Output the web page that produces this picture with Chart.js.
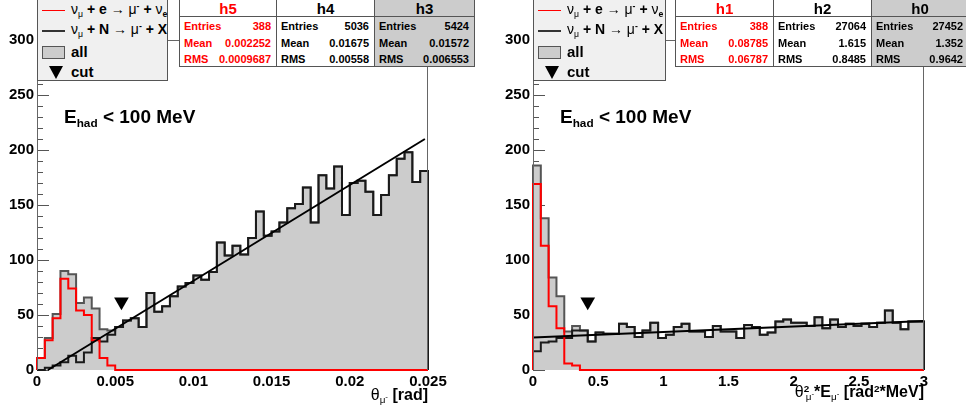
<!DOCTYPE html>
<html><head><meta charset="utf-8">
<script src="https://cdn.jsdelivr.net/npm/chart.js@4.4.1/dist/chart.umd.min.js"></script>
<style>
html,body{margin:0;padding:0;background:#fff;}
#wrap{position:relative;width:966px;height:413px;overflow:hidden;font-family:"Liberation Sans",Arial,Helvetica,sans-serif;color:#000;}
canvas{position:absolute;top:0;}
.box{position:absolute;box-sizing:border-box;}
.legend{background:#f0f0f0;border:1px solid #555;}
.t{position:absolute;white-space:nowrap;font-weight:bold;}
.g{font-weight:normal;}
.sb{font-size:0.62em;vertical-align:-0.32em;line-height:0;}
.sp{font-size:0.62em;vertical-align:0.55em;line-height:0;}
.stat{background:#fff;border:1px solid #555;}
.col{position:absolute;top:0;bottom:0;box-sizing:border-box;}
.hd{position:absolute;top:1px;left:0;right:0;text-align:center;font-size:15px;line-height:16px;font-weight:bold;}
.hl{position:absolute;top:16px;left:0;right:0;border-top:1px solid #555;}
.r{position:absolute;left:4px;right:5px;display:flex;justify-content:space-between;font-size:11px;line-height:14px;font-weight:bold;}
.lg{font-size:14px;line-height:16px;}
.lg2{font-size:15px;line-height:16px;}
</style></head>
<body>
<div id="wrap">
  <canvas id="cL" width="483" height="413" style="left:0"></canvas>
  <canvas id="cR" width="483" height="413" style="left:483px"></canvas>

  <div class="box legend" style="left:37px;top:-1px;width:131px;height:82px;">
    <div style="position:absolute;left:4px;top:10px;width:23px;height:1px;background:#ff0000"></div>
    <div class="t lg" style="left:33px;top:1px;"><span class="g">ν</span><span class="sb g">μ</span> + e <span class="g">→ μ</span><span class="sp">-</span> + <span class="g">ν</span><span class="sb">e</span></div>
    <div style="position:absolute;left:4px;top:30px;width:23px;height:2px;background:#333"></div>
    <div class="t lg" style="left:33px;top:21px;"><span class="g">ν</span><span class="sb g">μ</span> + N <span class="g">→ μ</span><span class="sp">-</span> + X</div>
    <div style="position:absolute;left:4px;top:46px;width:23px;height:13px;background:#cccccc;border:1px solid #555;box-sizing:border-box"></div>
    <div class="t lg2" style="left:33px;top:44px;">all</div>
    <div style="position:absolute;left:11px;top:66px;width:0;height:0;border-left:7px solid transparent;border-right:7px solid transparent;border-top:13px solid #000"></div>
    <div class="t lg2" style="left:33px;top:64px;">cut</div>
  </div>
  <div class="box stat" id="statL" style="left:179px;top:-1px;width:296px;height:68px;"></div>

  <div class="box legend" style="left:533px;top:-1px;width:133px;height:82px;">
    <div style="position:absolute;left:4px;top:10px;width:23px;height:1px;background:#ff0000"></div>
    <div class="t lg" style="left:33px;top:1px;"><span class="g">ν</span><span class="sb g">μ</span> + e <span class="g">→ μ</span><span class="sp">-</span> + <span class="g">ν</span><span class="sb">e</span></div>
    <div style="position:absolute;left:4px;top:30px;width:23px;height:2px;background:#333"></div>
    <div class="t lg" style="left:33px;top:21px;"><span class="g">ν</span><span class="sb g">μ</span> + N <span class="g">→ μ</span><span class="sp">-</span> + X</div>
    <div style="position:absolute;left:4px;top:46px;width:23px;height:13px;background:#cccccc;border:1px solid #555;box-sizing:border-box"></div>
    <div class="t lg2" style="left:33px;top:44px;">all</div>
    <div style="position:absolute;left:11px;top:66px;width:0;height:0;border-left:7px solid transparent;border-right:7px solid transparent;border-top:13px solid #000"></div>
    <div class="t lg2" style="left:33px;top:64px;">cut</div>
  </div>
  <div class="box stat" id="statR" style="left:675px;top:-1px;width:294px;height:68px;"></div>

  <div class="t" style="left:64px;top:107px;font-size:19px;line-height:19px;">E<span class="sb">had</span> &lt; 100 MeV</div>
  <div class="t" style="left:560px;top:107px;font-size:19px;line-height:19px;">E<span class="sb">had</span> &lt; 100 MeV</div>

  <div class="t" style="right:538px;top:387px;font-size:16px;line-height:16px;"><span class="g">θ</span><span class="sb g">μ<span class="sp" style="font-size:0.8em">-</span></span> [rad]</div>
  <div class="t" style="right:42px;top:384px;font-size:16px;line-height:16px;"><span class="g">θ</span><span class="sp">2</span><span class="sb g" style="margin-left:-0.35em">μ<span class="sp" style="font-size:0.8em">-</span></span>*E<span class="sb g">μ<span class="sp" style="font-size:0.8em">-</span></span> [rad<span class="sp">2</span>*MeV]</div>
</div>

<script>
// ---------------- data ----------------
const yTicks = [0, 50, 100, 150, 200, 250, 300];
const yMinorStep = 10;

// Left panel: theta_mu (rad), 50 bins on [0, 0.025]
const leftRange = [0, 0.025];
const leftXTicks = [0, 0.005, 0.01, 0.015, 0.02, 0.025];
const leftRed = [11,27,47,83,74,54,50,27,11,4, 0,0,0,0,0,0,0,0,0,0, 0,0,0,0,0,0,0,0,0,0, 0,0,0,0,0,0,0,0,0,0, 0,0,0,0,0,0,0,0,0,0];
const leftBlack = [0,2,4,7,13,7,16,29,26,32, 39,45,47,39,70,53,58,67,76,79, 86,82,89,116,104,113,105,120,144,122, 126,134,147,151,166,134,177,165,185,141, 170,172,162,141,159,177,192,198,171,181];
const leftAll = [11,29,51,90,87,61,66,56,37,36, 39,45,47,39,70,53,58,67,76,79, 86,82,89,116,104,113,105,120,144,122, 126,134,147,151,166,134,177,165,185,141, 170,172,162,141,159,177,192,198,171,181];
const leftFitX = [0.0007, 0.0248];
const leftFitY = [0, 210];
const leftCut = [0.0054, 62];

// Right panel: theta^2 * E_mu (rad^2*MeV), 50 bins on [0, 3]
const rightRange = [0, 3];
const rightXTicks = [0, 0.5, 1, 1.5, 2, 2.5, 3];
const rightRed = [169,113,58,38,6,4,0,0,0,0, 0,0,0,0,0,0,0,0,0,0, 0,0,0,0,0,0,0,0,0,0, 0,0,0,0,0,0,0,0,0,0, 0,0,0,0,0,0,0,0,0,0];
const rightBlack = [17,25,26,29,29,36,36,26,34,33, 33,42,39,30,36,43,29,32,39,42, 35,35,30,40,35,35,29,41,39,32, 34,44,46,43,43,40,48,38,46,39, 42,40,42,39,43,54,43,37,44,44];
const rightAll = [186,138,84,67,35,40,36,26,34,33, 33,42,39,30,36,43,29,32,39,42, 35,35,30,40,35,35,29,41,39,32, 34,44,46,43,43,40,48,38,46,39, 42,40,42,39,43,54,43,37,44,44];
const rightFitX = [0, 3];
const rightFitY = [29.5, 44.5];
const rightCut = [0.42, 62];

// statistics boxes
const leftStatNames = ['h5', 'h4', 'h3'];
const leftStatEntries = ['388', '5036', '5424'];
const leftStatMeans = ['0.002252', '0.01675', '0.01572'];
const leftStatRMS = ['0.0009687', '0.00558', '0.006553'];
const rightStatNames = ['h1', 'h2', 'h0'];
const rightStatEntries = ['388', '27064', '27452'];
const rightStatMeans = ['0.08785', '1.615', '1.352'];
const rightStatRMS = ['0.06787', '0.8485', '0.9642'];

// ---------------- stats boxes ----------------
function buildStats(id, names, entries, means, rmss, widths) {
  const el = document.getElementById(id);
  const colors = ['#ff0000', '#000', '#000'];
  const fills = ['#fff', '#fff', '#cccccc'];
  let x = 0;
  names.forEach((n, i) => {
    const c = document.createElement('div');
    c.className = 'col';
    c.style.left = x + 'px';
    c.style.width = widths[i] + 'px';
    c.style.background = fills[i];
    c.style.color = colors[i];
    if (i > 0) c.style.borderLeft = '1px solid #555';
    c.innerHTML =
      '<div class="hd">' + n + '</div><div class="hl"></div>' +
      '<div class="r" style="top:19px"><span>Entries</span><span>' + entries[i] + '</span></div>' +
      '<div class="r" style="top:36px"><span>Mean</span><span>' + means[i] + '</span></div>' +
      '<div class="r" style="top:52px"><span>RMS</span><span>' + rmss[i] + '</span></div>';
    el.appendChild(c);
    x += widths[i];
  });
}
buildStats('statL', leftStatNames, leftStatEntries, leftStatMeans, leftStatRMS, [96, 98, 100]);
buildStats('statR', rightStatNames, rightStatEntries, rightStatMeans, rightStatRMS, [97, 98, 97]);

// ---------------- charts ----------------
Chart.defaults.font.family = "'Liberation Sans', Arial, Helvetica, sans-serif";
Chart.defaults.color = '#000';

function stepPts(range, vals) {
  const w = (range[1] - range[0]) / vals.length;
  const pts = [{x: range[0], y: 0}];
  vals.forEach((v, i) => pts.push({x: range[0] + i * w, y: v}));
  pts.push({x: range[1], y: vals[vals.length - 1]});
  pts.push({x: range[1], y: 0});
  return pts;
}

const frame = {
  id: 'frame',
  beforeDatasetsDraw(chart) {
    const {ctx, chartArea: a, scales: {y}} = chart;
    ctx.save();
    ctx.strokeStyle = '#555';
    ctx.lineWidth = 1;
    for (let v = yTicks[0]; v <= yTicks[yTicks.length - 1]; v += yMinorStep) {
      const py = Math.round(y.getPixelForValue(v)) + 0.5;
      const len = (v % 50 === 0) ? 12 : 6;
      ctx.beginPath(); ctx.moveTo(a.left, py); ctx.lineTo(a.left + len, py); ctx.stroke();
    }
    ctx.beginPath(); ctx.moveTo(a.left, a.bottom - 0.5); ctx.lineTo(a.right, a.bottom - 0.5); ctx.stroke();
    ctx.restore();
  },
  afterDatasetsDraw(chart) {
    const {ctx, chartArea: a} = chart;
    ctx.save();
    ctx.strokeStyle = '#666';
    ctx.lineWidth = 1;
    ctx.beginPath();
    ctx.moveTo(a.left + 0.5, a.bottom);
    ctx.lineTo(a.left + 0.5, a.top + 0.5);
    ctx.lineTo(a.right - 0.5, a.top + 0.5);
    ctx.lineTo(a.right - 0.5, a.bottom);
    ctx.stroke();
    ctx.restore();
  }
};

function makeChart(id, range, xTicks, red, black, all, fitX, fitY, cut, yWidth, padRight) {
  const fmt = v => String(+(+v).toFixed(4));
  return new Chart(document.getElementById(id), {
    type: 'scatter',
    data: {
      datasets: [
        {data: stepPts(range, all), showLine: true, stepped: 'before', borderColor: '#555', borderWidth: 2,
         backgroundColor: '#cccccc', fill: 'origin', pointRadius: 0, order: 4, clip: 4},
        {data: stepPts(range, black), showLine: true, stepped: 'before', borderColor: '#1a1a1a', borderWidth: 2,
         fill: false, pointRadius: 0, order: 3, clip: 4},
        {data: stepPts(range, red), showLine: true, stepped: 'before', borderColor: '#ff0000', borderWidth: 2,
         fill: false, pointRadius: 0, order: 2, clip: 4},
        {data: fitX.map((x, i) => ({x: x, y: fitY[i]})), showLine: true, borderColor: '#000', borderWidth: 2,
         fill: false, pointRadius: 0, order: 1, clip: 4},
        {data: [{x: cut[0], y: cut[1]}], showLine: false, pointStyle: 'triangle', rotation: 180, pointRadius: 8.5,
         backgroundColor: '#000', borderColor: '#000', borderWidth: 0, order: 0, clip: false}
      ]
    },
    options: {
      responsive: false,
      animation: false,
      devicePixelRatio: 1,
      events: [],
      layout: {padding: {top: 40, right: padRight, left: 0, bottom: 0}},
      plugins: {legend: {display: false}, tooltip: {enabled: false}},
      scales: {
        x: {
          type: 'linear', min: range[0], max: range[1],
          afterFit: s => { s.height = 43; },
          afterBuildTicks: s => { s.ticks = xTicks.map(v => ({value: v})); },
          grid: {display: false, drawTicks: false},
          border: {display: false},
          ticks: {autoSkip: false, maxRotation: 0, padding: 3, callback: fmt,
                  font: {size: 15, weight: 'bold'}, color: '#000'}
        },
        y: {
          type: 'linear', min: yTicks[0], max: yTicks[yTicks.length - 1],
          afterFit: s => { s.width = yWidth; },
          afterBuildTicks: s => { s.ticks = yTicks.map(v => ({value: v})); },
          grid: {display: false, drawTicks: false},
          border: {display: false},
          ticks: {autoSkip: false, padding: 3, font: {size: 15, weight: 'bold'}, color: '#000'}
        }
      }
    },
    plugins: [frame]
  });
}

makeChart('cL', leftRange, leftXTicks, leftRed, leftBlack, leftAll, leftFitX, leftFitY, leftCut, 37, 55);
makeChart('cR', rightRange, rightXTicks, rightRed, rightBlack, rightAll, rightFitX, rightFitY, rightCut, 50, 42);
</script>
</body></html>
